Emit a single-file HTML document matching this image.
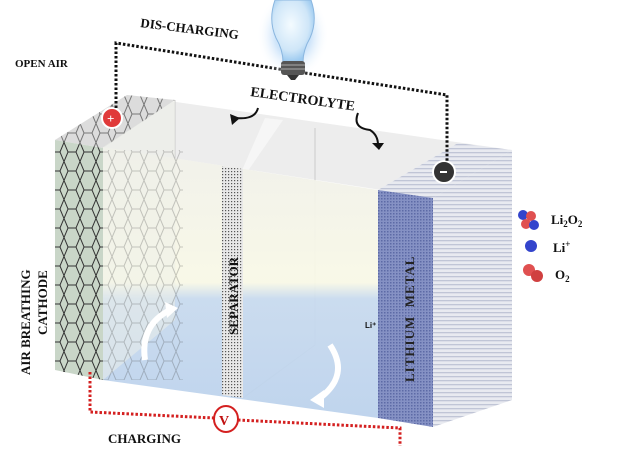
<!DOCTYPE html>
<html><head><style>
html,body{margin:0;padding:0;background:#fff;}
svg{display:block;font-family:"Liberation Serif",serif;font-weight:bold;}
</style></head><body>
<svg width="624" height="468" viewBox="0 0 624 468" xmlns="http://www.w3.org/2000/svg">
<defs>
<linearGradient id="fr" x1="0" y1="0" x2="0" y2="1">
<stop offset="0" stop-color="#f0f0ea"/><stop offset="0.5" stop-color="#f8f8e6"/><stop offset="0.56" stop-color="#c8daee"/><stop offset="1" stop-color="#bcd2ec"/>
</linearGradient>
<pattern id="hs" width="4" height="4" patternUnits="userSpaceOnUse"><rect width="4" height="4" fill="#e8eaf0"/><rect width="4" height="1.3" fill="#c0c5d6"/></pattern>
<pattern id="xh" width="3" height="3" patternUnits="userSpaceOnUse"><rect width="3" height="3" fill="#8591c4"/><rect width="1.5" height="1.5" fill="#5d6aa6"/></pattern>
<pattern id="dt" width="3" height="3" patternUnits="userSpaceOnUse"><rect width="3" height="3" fill="#e8e8e8"/><rect width="1.2" height="1.2" fill="#555"/></pattern>
<pattern id="hex" width="16" height="19" patternUnits="userSpaceOnUse"><path d="M4 0 L12 0 L16 9.5 L12 19 L4 19 L0 9.5 Z" fill="none" stroke="#333" stroke-width="1"/></pattern>
<radialGradient id="bulb" cx="0.45" cy="0.4" r="0.6"><stop offset="0" stop-color="#f4fbff"/><stop offset="0.7" stop-color="#cfe6f8"/><stop offset="1" stop-color="#9ccaf0"/></radialGradient>
<radialGradient id="glow" cx="0.5" cy="0.5" r="0.5"><stop offset="0.5" stop-color="#cfe5fa"/><stop offset="1" stop-color="#fff" stop-opacity="0"/></radialGradient>
</defs>
<!-- top face -->
<polygon points="55,140 127,95 512,150 433,198" fill="#ededed"/>
<polygon points="127,95 175,100 103,148 55,140" fill="#dcdcdc"/>
<polygon points="127,95 175,100 103,148 55,140" fill="url(#hex)" opacity="0.6"/>
<polygon points="378,190 433,198 512,150 458,143" fill="url(#hs)"/>
<polyline points="175,100 175,320" stroke="#ccc" fill="none"/>
<polyline points="315,128 315,345 243,398" stroke="#ccc" fill="none"/>
<polygon points="243,168 265,118 283,120 243,178" fill="#f6f6f6"/>
<!-- front electrolyte -->
<polygon points="103,147 378,190 378,418 103,380" fill="url(#fr)" opacity="0.95"/>
<polygon points="103,147 175,100 175,320 103,380" fill="#eef0e8" opacity="0.5"/>
<rect x="103" y="150" width="80" height="230" fill="url(#hex)" opacity="0.25"/>
<!-- separator -->
<polygon points="222,166 243,169 243,398 222,395" fill="url(#dt)"/>
<text transform="translate(238,335) rotate(-90)" font-size="13" fill="#111">SEPARATOR</text>
<!-- cathode -->
<polygon points="55,140 103,148 103,380 55,370" fill="#c9d6c8"/>
<polygon points="55,140 103,148 103,380 55,370" fill="url(#hex)"/>
<!-- lithium -->
<polygon points="378,190 433,198 433,427 378,418" fill="url(#xh)"/>
<polygon points="433,198 512,150 512,400 433,427" fill="url(#hs)"/>
<text transform="translate(414,382) rotate(-90)" font-size="13" fill="#222" letter-spacing="1">LITHIUM&#160;&#160;METAL</text>
<text x="365" y="328" font-family="Liberation Sans,sans-serif" font-size="8" fill="#111">Li⁺</text>
<!-- arrows -->
<path d="M145,360 Q140,325 170,310" stroke="#fff" stroke-width="6" fill="none"/>
<path d="M165,302 L178,308 L167,318 Z" fill="#fff"/>
<path d="M330,345 Q350,375 320,398" stroke="#fff" stroke-width="6" fill="none"/>
<path d="M324,390 L310,400 L324,408 Z" fill="#fff"/>
<!-- terminals -->
<circle cx="112" cy="118" r="10" fill="#e03a3a" stroke="#fff" stroke-width="2"/>
<text x="107" y="123" font-size="13" fill="#fff">+</text>
<circle cx="444" cy="172" r="11" fill="#333" stroke="#fff" stroke-width="2"/>
<rect x="440" y="171" width="7" height="2" fill="#fff"/>
<!-- dotted discharging circuit -->
<polyline points="116,108 116,43 285,70" stroke="#111" stroke-width="3" stroke-dasharray="2.5,2" fill="none"/>
<polyline points="305,73 447,95 447,162" stroke="#111" stroke-width="3" stroke-dasharray="2.5,2" fill="none"/>
<!-- bulb -->
<ellipse cx="293" cy="35" rx="36" ry="44" fill="url(#glow)"/>
<path d="M275,0 Q268,20 276,38 Q283,50 283,62 L303,62 Q303,50 310,38 Q318,20 311,0 Z" fill="url(#bulb)" stroke="#8ab6df"/>
<rect x="281" y="61" width="24" height="14" rx="3" fill="#555"/>
<line x1="281" y1="65" x2="305" y2="65" stroke="#aaa"/><line x1="281" y1="69" x2="305" y2="69" stroke="#aaa"/>
<path d="M287,75 L299,75 L295,80 L291,80 Z" fill="#333"/>
<!-- red charging circuit -->
<polyline points="90,372 90,412 214,418" stroke="#d42020" stroke-width="3" stroke-dasharray="2.5,2" fill="none"/>
<polyline points="238,420 400,428 400,446" stroke="#d42020" stroke-width="3" stroke-dasharray="2.5,2" fill="none"/>
<ellipse cx="226" cy="419" rx="12" ry="13" fill="#fff" stroke="#d42020" stroke-width="2"/>
<text x="219" y="425" font-size="14" fill="#c01010">V</text>
<!-- labels -->
<text transform="translate(140,27) rotate(7)" font-size="13" fill="#111">DIS-CHARGING</text>
<text x="15" y="67" font-size="11" fill="#111">OPEN AIR</text>
<text transform="translate(250,96) rotate(8)" font-size="14" fill="#111">ELECTROLYTE</text>
<path d="M258,108 Q255,120 236,118" stroke="#111" stroke-width="2" fill="none"/>
<path d="M232,125 L230,114 L240,118 Z" fill="#111"/>
<path d="M358,113 Q352,128 370,130 Q378,135 378,145" stroke="#111" stroke-width="2" fill="none"/>
<path d="M372,143 L384,143 L379,150 Z" fill="#111"/>
<text transform="translate(30,375) rotate(-90)" font-size="13" fill="#111">AIR BREATHING</text>
<text transform="translate(47,335) rotate(-90)" font-size="13" fill="#111">CATHODE</text>
<text x="108" y="443" font-size="13" fill="#111">CHARGING</text>
<!-- legend -->
<circle cx="523" cy="215" r="5" fill="#3344cc"/><circle cx="531" cy="216" r="5" fill="#e05050"/><circle cx="526" cy="224" r="5" fill="#e05050"/><circle cx="534" cy="225" r="5" fill="#3344cc"/>
<text x="551" y="224" font-size="13" fill="#111">Li<tspan font-size="9" dy="3">2</tspan><tspan dy="-3">O</tspan><tspan font-size="9" dy="3">2</tspan></text>
<circle cx="531" cy="246" r="6" fill="#3344cc"/>
<text x="553" y="252" font-size="13" fill="#111">Li<tspan font-size="9" dy="-5">+</tspan></text>
<circle cx="529" cy="270" r="6" fill="#e05050"/><circle cx="537" cy="276" r="6" fill="#d04040"/>
<text x="555" y="279" font-size="13" fill="#111">O<tspan font-size="9" dy="3">2</tspan></text>
</svg>
</body></html>
